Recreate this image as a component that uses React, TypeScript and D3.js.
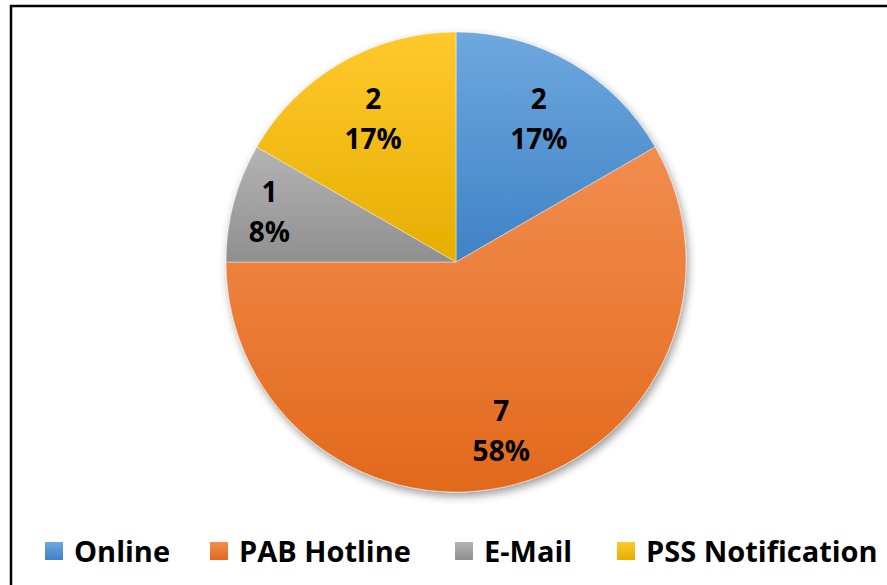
import React, { useEffect, useRef } from "react";
import * as d3 from "d3";

const categories = ["Online", "PAB Hotline", "E-Mail", "PSS Notification"];
const values = [2, 7, 1, 2];
const percentLabels = ["17%", "58%", "8%", "17%"];
const colorsTop = ["#6ea8de", "#f28d4f", "#b4b4b4", "#ffc92e"];
const colorsBottom = ["#3f82c6", "#e2691c", "#8f8f8f", "#e6ae00"];

const W = 887;
const H = 585;
const cx = 456;
const cy = 262;
const R = 230;
const FONT = "'Open Sans', Lato, sans-serif";
// label distance (fraction of radius) per slice, Excel "best fit" look
const labelFactor = [0.72, 0.76, 0.84, 0.72];

export default function App() {
  const ref = useRef<SVGSVGElement | null>(null);

  useEffect(() => {
    const svg = d3.select(ref.current);
    svg.selectAll("*").remove();

    const defs = svg.append("defs");
    categories.forEach((_, i) => {
      const g = defs
        .append("linearGradient")
        .attr("id", `grad${i}`)
        .attr("x1", 0)
        .attr("y1", 0)
        .attr("x2", 0)
        .attr("y2", 1);
      g.append("stop").attr("offset", "0%").attr("stop-color", colorsTop[i]);
      g.append("stop").attr("offset", "100%").attr("stop-color", colorsBottom[i]);
    });
    const f = defs
      .append("filter")
      .attr("id", "shadow")
      .attr("x", "-20%")
      .attr("y", "-20%")
      .attr("width", "140%")
      .attr("height", "140%");
    f.append("feDropShadow")
      .attr("dx", 2)
      .attr("dy", 4)
      .attr("stdDeviation", 4)
      .attr("flood-color", "#000")
      .attr("flood-opacity", 0.4);

    svg
      .append("rect")
      .attr("x", 0)
      .attr("y", 0)
      .attr("width", W)
      .attr("height", H)
      .attr("fill", "#fff");

    svg
      .append("rect")
      .attr("x", 11)
      .attr("y", 6)
      .attr("width", W + 20)
      .attr("height", H + 20)
      .attr("fill", "none")
      .attr("stroke", "#000")
      .attr("stroke-width", 2.5);

    const pie = d3
      .pie<number>()
      .sort(null)
      .value((d) => d);
    const arcs = pie(values);
    const arc = d3.arc<d3.PieArcDatum<number>>().innerRadius(0).outerRadius(R);

    const g = svg.append("g").attr("transform", `translate(${cx},${cy})`);
    const pieG = g.append("g").attr("filter", "url(#shadow)");
    pieG
      .selectAll("path")
      .data(arcs)
      .join("path")
      .attr("d", arc)
      .attr("fill", (_, i) => `url(#grad${i})`)
      .attr("stroke", "#ffffff")
      .attr("stroke-opacity", 0.5)
      .attr("stroke-width", 0.8);

    const lbl = g
      .selectAll("g.lbl")
      .data(arcs)
      .join("g")
      .attr("class", "lbl")
      .attr("transform", (d, i) => {
        const r = R * labelFactor[i];
        const la = d3.arc<d3.PieArcDatum<number>>().innerRadius(r).outerRadius(r);
        const [x, y] = la.centroid(d);
        return `translate(${x},${y})`;
      });
    lbl
      .append("text")
      .attr("text-anchor", "middle")
      .attr("y", -10)
      .attr("font-family", FONT)
      .attr("font-weight", "bold")
      .attr("font-size", 28)
      .attr("fill", "#000")
      .text((d) => String(d.data));
    lbl
      .append("text")
      .attr("text-anchor", "middle")
      .attr("y", 30)
      .attr("font-family", FONT)
      .attr("font-weight", "bold")
      .attr("font-size", 28)
      .attr("fill", "#000")
      .text((_, i) => percentLabels[i]);

    const legendX = [45, 210, 455, 617];
    const legend = svg
      .append("g")
      .selectAll("g")
      .data(categories)
      .join("g")
      .attr("transform", (_, i) => `translate(${legendX[i]},551)`);
    legend
      .append("rect")
      .attr("x", 0)
      .attr("y", -9)
      .attr("width", 18)
      .attr("height", 18)
      .attr("fill", (_, i) => `url(#grad${i})`);
    legend
      .append("text")
      .attr("x", 29)
      .attr("y", 10.5)
      .attr("font-family", FONT)
      .attr("font-weight", "bold")
      .attr("font-size", 29)
      .attr("fill", "#000")
      .text((d) => d);
  }, []);

  return (
    <svg
      ref={ref}
      width={W}
      height={H}
      style={{ position: "absolute", left: 0, top: 0, display: "block" }}
    />
  );
}
